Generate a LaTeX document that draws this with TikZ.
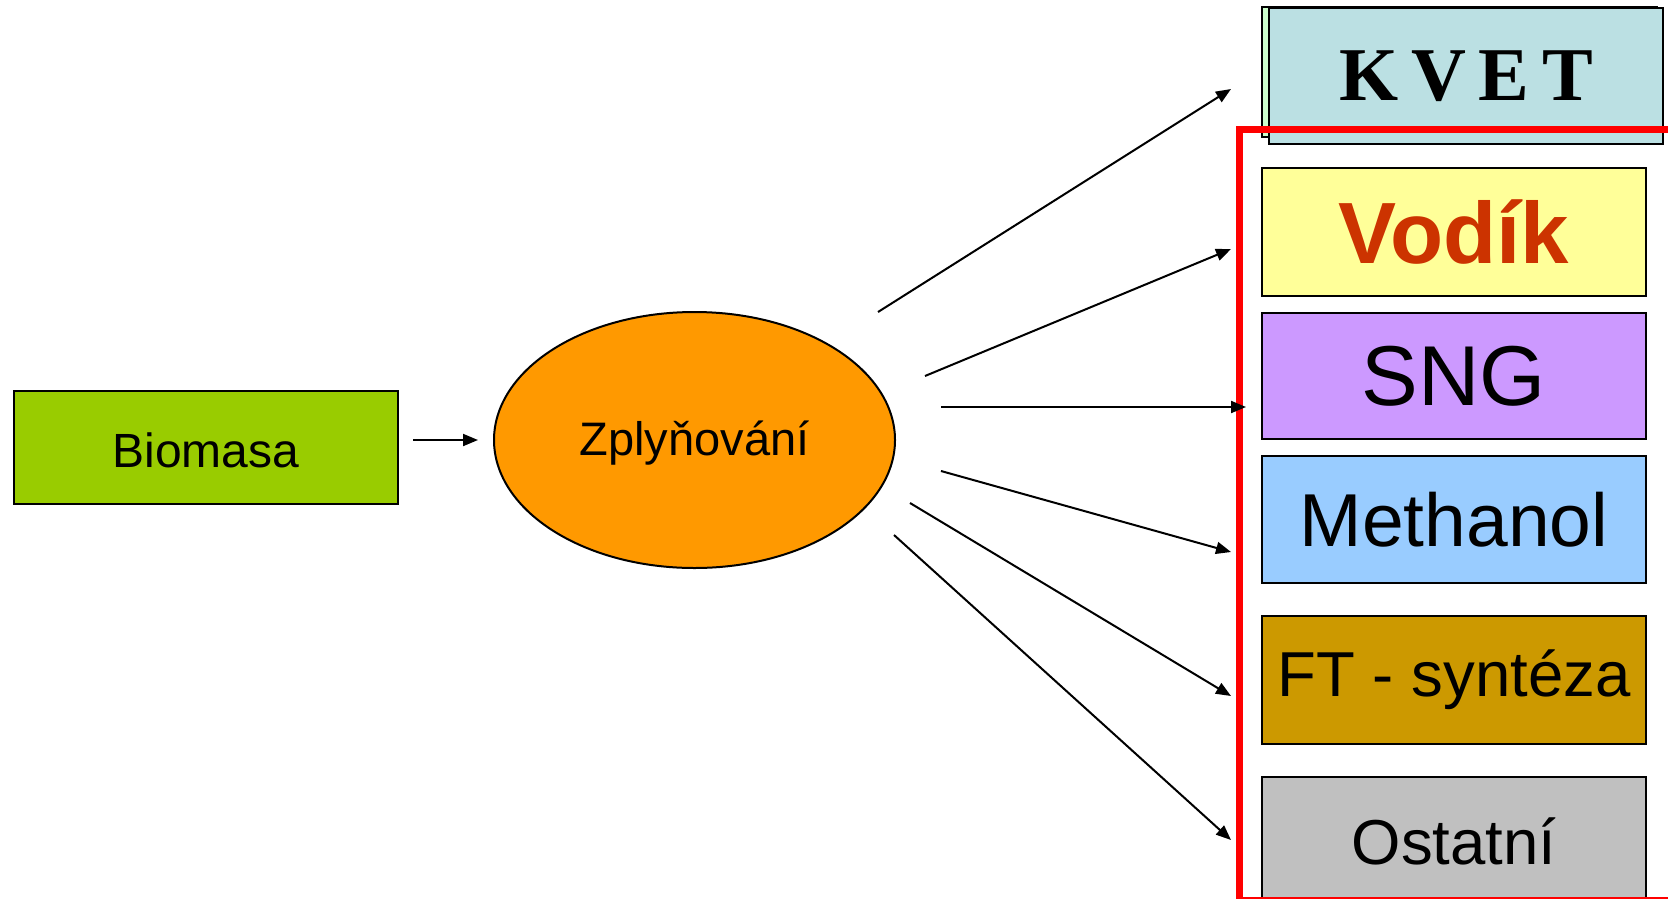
\documentclass[tikz,border=0pt]{standalone}
\usepackage{fontspec}
\setmainfont{Liberation Sans}
\newfontfamily\serifb{Liberation Serif}
\usetikzlibrary{arrows.meta,shapes.geometric}
\definecolor{biogreen}{HTML}{99CC00}
\definecolor{zorange}{HTML}{FF9900}
\definecolor{kvetblue}{HTML}{BBE0E3}
\definecolor{kvetgreen}{HTML}{CCFFCC}
\definecolor{vodyellow}{HTML}{FFFF99}
\definecolor{vodred}{HTML}{CC3300}
\definecolor{sngviolet}{HTML}{CC99FF}
\definecolor{methblue}{HTML}{99CCFF}
\definecolor{ftgold}{HTML}{CC9900}
\definecolor{ostgray}{HTML}{C0C0C0}
\tikzset{
  boxst/.style={draw=black, line width=2pt, inner sep=0pt, minimum width=384pt, minimum height=128pt},
  arr/.style={draw=black, line width=2pt, -{Triangle[length=15pt,width=12pt]}},
}
\begin{document}
\begin{tikzpicture}[x=1pt,y=-1pt]
\useasboundingbox (0,0) rectangle (1668,898);
\fill[white] (0,0) rectangle (1668,898);
% left
\node[boxst, fill=biogreen, minimum width=384pt, minimum height=113pt, font=\fontsize{48}{52}\selectfont] (bio) at (206,447.5) {\raisebox{-2.5pt}[\height][\depth]{Biomasa}};
\node[draw=black, line width=2pt, ellipse, fill=zorange, minimum width=401pt, minimum height=256pt, inner sep=0pt, font=\fontsize{47}{51}\selectfont] (zpl) at (694.5,440) {\raisebox{-3.5pt}[\height][\depth]{Zplyňování}};
% KVET
\node[boxst, fill=kvetgreen, minimum width=395pt, minimum height=130pt] (kvetb) at (1459.5,72) {};
\node[boxst, fill=kvetblue, minimum width=394pt, minimum height=136pt, font=\serifb\bfseries\fontsize{76}{80}\selectfont] (kvet) at (1466,76) {K\,V\,E\,T};
% outputs
\node[boxst, fill=vodyellow, text=vodred, font=\bfseries\fontsize{87}{92}\selectfont] (vod) at (1454,232) {Vodík};
\node[boxst, fill=sngviolet, minimum height=126pt, font=\fontsize{85}{90}\selectfont] (sng) at (1454,376) {SNG};
\node[boxst, fill=methblue, minimum height=127pt, font=\fontsize{75}{80}\selectfont] (meth) at (1454,519.5) {Methanol};
\node[boxst, fill=ftgold, font=\fontsize{63.5}{68}\selectfont] (ft) at (1454,680) {FT - syntéza};
\node[boxst, fill=ostgray, font=\fontsize{63.5}{68}\selectfont] (ost) at (1454,841) {Ostatní};
% red frame
\draw[red, line width=7pt] (1239.2,905) -- (1239.2,129.7) -- (1675,129.7);
\draw[red, line width=2pt] (1239,898) -- (1672,898);
% arrow coordinates
\coordinate (a0s) at (413,440); \coordinate (a0e) at (478,440);
\coordinate (a1s) at (878,312); \coordinate (a1e) at (1231,89);
\coordinate (a2s) at (925,376); \coordinate (a2e) at (1231,249);
\coordinate (a3s) at (941,407); \coordinate (a3e) at (1246,407);
\coordinate (a4s) at (941,471); \coordinate (a4e) at (1231,552);
\coordinate (a5s) at (910,503); \coordinate (a5e) at (1231,696);
\coordinate (a6s) at (894,535); \coordinate (a6e) at (1231,840);
\draw[arr] (a0s) -- (a0e);
\draw[arr] (a1s) -- (a1e);
\draw[arr] (a2s) -- (a2e);
\draw[arr] (a3s) -- (a3e);
\draw[arr] (a4s) -- (a4e);
\draw[arr] (a5s) -- (a5e);
\draw[arr] (a6s) -- (a6e);
\end{tikzpicture}
\end{document}
